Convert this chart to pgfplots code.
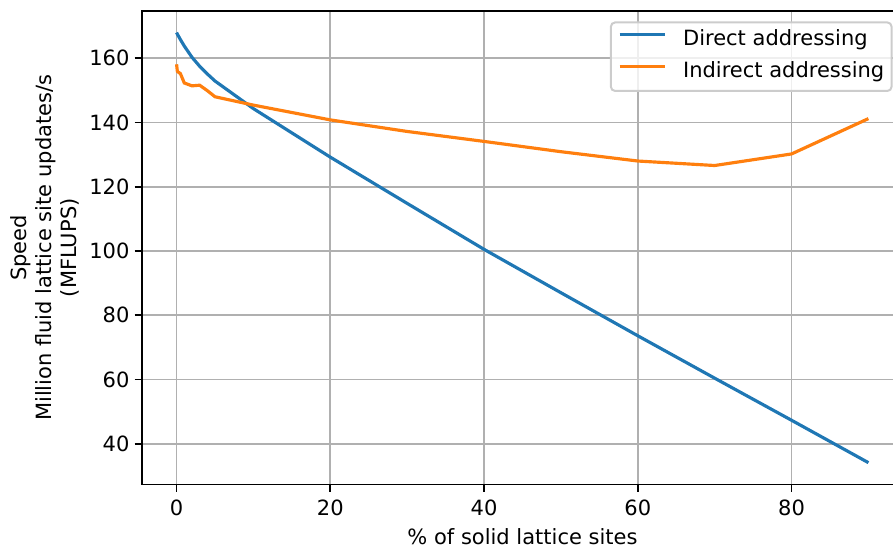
\documentclass[border=0pt]{standalone}
\usepackage{fontspec}
\setmainfont{DejaVu Sans}
\usepackage{pgfplots}
\pgfplotsset{compat=1.18}
\definecolor{mplblue}{HTML}{1F77B4}
\definecolor{mplorange}{HTML}{FF7F0E}
\definecolor{gridgray}{HTML}{B0B0B0}
\definecolor{legframe}{HTML}{CCCCCC}
\begin{document}
\fontsize{10.5}{12.6}\selectfont
\begin{tikzpicture}
\begin{axis}[
  name=ax,
  scale only axis, width=380.5pt, height=236.75pt,
  xmin=-4.5, xmax=94.5, ymin=27.3, ymax=174.7,
  xtick={0,20,40,60,80}, ytick={40,60,...,160},
  tick pos=left, tick align=outside,
  major tick length=3.7pt,
  every tick/.style={black, line width=0.84pt},
  axis line style={line width=0.84pt, black},
  grid=major, major grid style={gridgray, line width=0.84pt},
  /pgf/number format/assume math mode=true,
  tick label style={font=\fontsize{10.5}{12.6}\selectfont},
  xticklabel style={inner sep=0pt, anchor=north, yshift=-3.6pt},
  yticklabel style={inner sep=0pt, anchor=east, xshift=-2.4pt},
  xlabel={\% of solid lattice sites},
  every axis x label/.style={at={(axis description cs:0.5,0)}, anchor=base, yshift=-30.2pt, inner sep=0pt},
  ylabel={Speed\\Million fluid lattice site updates/s\\(MFLUPS)},
  every axis y label/.style={at={(axis description cs:-0.0815,0.5)}, anchor=south, rotate=90, align=center, inner sep=0pt, font=\fontsize{10.5}{12.6}\selectfont},
  legend style={
    at={(1,1)}, anchor=north east, xshift=-5.25pt, yshift=-5.25pt,
    draw=legframe, line width=1pt, rounded corners=2pt,
    fill=white, fill opacity=0.8, text opacity=1,
    inner xsep=3.6pt, inner ysep=4.2pt, row sep=5.8pt, column sep=8.4pt,
    nodes={inner sep=0pt, text height=7.5pt, text depth=2.5pt},
    font=\fontsize{10.5}{12.6}\selectfont,
  },
  legend cell align=left,
  legend image code/.code={\draw[#1, rounded corners=0pt] (0pt,3pt) -- (22.5pt,3pt);},
]
\addplot[mplblue, line width=1.58pt] coordinates {
(0,168.0) (0.1,167.5) (0.5,165.8) (1,163.8) (2,160.3) (3,157.5) (4,155.1) (5,152.9)
(10,144.3) (20,129.2) (30,114.8) (40,100.5) (50,87.0) (60,73.6) (70,60.4) (80,47.3) (90,34.1)
};
\addlegendentry{Direct addressing}
\addplot[mplorange, line width=1.58pt] coordinates {
(0,158.1) (0.1,155.9) (0.5,155.2) (1,152.3) (2,151.4) (3,151.6) (4,149.9) (5,148.0)
(10,145.4) (20,140.8) (30,137.2) (40,134.1) (50,130.9) (60,128.0) (70,126.6) (80,130.2) (90,141.2)
};
\addlegendentry{Indirect addressing}
\end{axis}
\pgfresetboundingbox
\path ([shift={(-71pt,5.5pt)}]ax.north west) rectangle ([shift={(-5pt,-31.25pt)}]ax.south east);
\end{tikzpicture}
\end{document}
